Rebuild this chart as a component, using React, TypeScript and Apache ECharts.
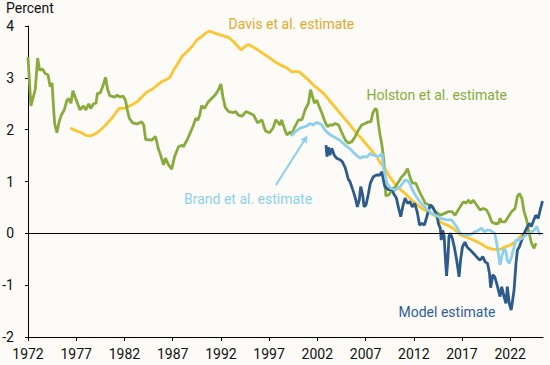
import React, { useEffect, useRef } from 'react';
import * as echarts from 'echarts';

const xTickYears = [1972, 1977, 1982, 1987, 1992, 1997, 2002, 2007, 2012, 2017, 2022];
const yMin = -2;
const yMax = 4;

const holston: [number, number][] = [
  [1972.0,3.40],[1972.3,2.46],[1972.75,2.77],[1973.0,3.38],[1973.2,3.15],[1973.5,3.17],[1973.8,3.08],[1974.07,3.06],[1974.3,2.83],[1974.5,2.90],[1974.6,2.57],[1974.76,2.12],[1975.0,1.94],[1975.2,2.13],[1975.45,2.28],[1975.76,2.38],[1976.04,2.57],[1976.2,2.60],[1976.45,2.51],[1976.66,2.75],[1977.0,2.57],[1977.4,2.38],[1977.76,2.46],[1978.0,2.38],[1978.3,2.50],[1978.5,2.41],[1978.8,2.50],[1979.05,2.51],[1979.2,2.70],[1979.5,2.71],[1979.8,2.86],[1980.04,3.01],[1980.25,2.78],[1980.5,2.65],[1981.05,2.63],[1981.2,2.67],[1981.55,2.63],[1981.85,2.65],[1982.1,2.57],[1982.3,2.38],[1982.5,2.22],[1982.85,2.13],[1983.3,2.11],[1983.8,2.15],[1984.0,2.09],[1984.2,1.81],[1984.85,1.80],[1985.2,1.87],[1985.35,1.77],[1985.5,1.64],[1985.8,1.48],[1986.05,1.32],[1986.25,1.45],[1986.57,1.32],[1986.9,1.24],[1987.2,1.48],[1987.6,1.67],[1987.96,1.70],[1988.1,1.67],[1988.5,1.80],[1988.8,1.93],[1989.1,2.06],[1989.4,2.22],[1989.6,2.18],[1989.8,2.28],[1990.0,2.46],[1990.3,2.41],[1990.7,2.54],[1991.4,2.67],[1991.75,2.77],[1992.0,2.88],[1992.2,2.64],[1992.45,2.43],[1992.8,2.35],[1993.3,2.33],[1993.55,2.35],[1993.8,2.28],[1994.2,2.26],[1994.6,2.35],[1994.97,2.32],[1995.4,2.28],[1995.8,2.13],[1996.25,2.19],[1996.6,1.98],[1997.04,1.94],[1997.4,2.03],[1997.7,2.19],[1998.15,2.09],[1998.3,2.19],[1998.7,1.96],[1998.85,1.90],[1999.2,1.96],[1999.35,1.90],[1999.6,2.03],[2000.05,2.19],[2000.4,2.19],[2000.73,2.38],[2001.08,2.51],[2001.3,2.77],[2001.5,2.64],[2001.7,2.51],[2001.95,2.57],[2002.2,2.44],[2002.47,2.32],[2002.8,2.15],[2003.05,2.06],[2003.3,2.09],[2003.6,2.09],[2003.85,2.12],[2004.2,2.09],[2004.5,1.96],[2004.9,1.80],[2005.2,1.74],[2005.6,1.77],[2005.9,1.86],[2006.25,1.99],[2006.6,2.09],[2006.95,2.12],[2007.3,2.15],[2007.55,2.15],[2007.75,2.32],[2008.0,2.41],[2008.17,2.38],[2008.33,2.12],[2008.5,1.90],[2008.7,1.70],[2008.9,1.40],[2009.1,0.72],[2009.4,0.74],[2009.75,0.84],[2010.1,0.90],[2010.75,1.09],[2011.1,1.16],[2011.35,1.25],[2011.6,1.09],[2011.85,0.97],[2012.2,0.97],[2012.5,0.84],[2012.85,0.71],[2013.2,0.58],[2013.55,0.55],[2013.9,0.51],[2014.25,0.42],[2014.75,0.35],[2015.25,0.39],[2015.6,0.42],[2015.94,0.42],[2016.28,0.35],[2016.8,0.51],[2017.14,0.61],[2017.42,0.58],[2017.66,0.64],[2017.9,0.58],[2018.18,0.64],[2018.5,0.55],[2018.87,0.45],[2019.2,0.48],[2019.56,0.45],[2019.83,0.35],[2020.08,0.22],[2020.4,0.19],[2020.77,0.19],[2020.95,0.29],[2021.1,0.22],[2021.46,0.22],[2021.8,0.32],[2022.16,0.42],[2022.5,0.48],[2022.74,0.71],[2022.95,0.77],[2023.2,0.68],[2023.44,0.42],[2023.7,0.26],[2023.97,0.0],[2024.2,-0.19],[2024.47,-0.29],[2024.67,-0.19]
];

const davis: [number, number][] = [
  [1976.4,2.03],[1977.0,1.98],[1977.45,1.95],[1978.0,1.89],[1978.5,1.88],[1979.0,1.92],[1979.5,1.99],[1980.05,2.09],[1980.56,2.19],[1981.08,2.32],[1981.43,2.41],[1981.95,2.41],[1982.3,2.44],[1982.8,2.48],[1983.33,2.54],[1983.85,2.64],[1984.36,2.73],[1984.9,2.78],[1985.4,2.86],[1985.9,2.93],[1986.4,2.97],[1986.75,3.02],[1987.1,3.15],[1987.45,3.25],[1987.96,3.41],[1988.5,3.51],[1989.0,3.60],[1989.5,3.73],[1990.03,3.80],[1990.55,3.88],[1990.9,3.90],[1991.4,3.86],[1991.9,3.83],[1992.45,3.80],[1992.8,3.78],[1993.3,3.70],[1993.8,3.60],[1994.1,3.54],[1994.6,3.62],[1994.9,3.64],[1995.55,3.57],[1996.07,3.51],[1996.6,3.44],[1997.1,3.38],[1997.6,3.31],[1998.15,3.25],[1998.85,3.19],[1999.3,3.12],[2000.1,3.12],[2000.9,2.99],[2001.6,2.86],[2002.65,2.70],[2003.5,2.51],[2004.35,2.32],[2005.4,2.09],[2006.1,1.92],[2006.44,1.86],[2007.3,1.67],[2008.17,1.48],[2008.5,1.37],[2009.0,1.25],[2009.4,1.12],[2010.24,0.90],[2011.1,0.77],[2011.96,0.61],[2012.83,0.48],[2013.7,0.39],[2014.4,0.32],[2014.73,0.22],[2015.42,0.16],[2016.1,0.10],[2016.8,-0.03],[2017.5,-0.08],[2018.18,-0.13],[2018.87,-0.19],[2019.56,-0.27],[2020.25,-0.31],[2020.95,-0.31],[2021.46,-0.26],[2022.0,-0.23],[2022.7,-0.14],[2023.2,-0.03],[2023.7,0.03],[2024.0,0.06]
];

const brand: [number, number][] = [
  [1999.3,1.88],[1999.6,1.94],[2000.2,2.03],[2000.56,2.05],[2000.9,2.07],[2001.25,2.12],[2001.55,2.09],[2001.95,2.14],[2002.2,2.12],[2002.47,2.09],[2002.8,1.99],[2003.33,1.90],[2003.84,1.85],[2004.36,1.79],[2004.88,1.70],[2005.4,1.63],[2005.74,1.56],[2006.1,1.50],[2006.44,1.45],[2006.78,1.48],[2007.13,1.47],[2007.47,1.54],[2007.75,1.51],[2008.0,1.50],[2008.2,1.48],[2008.5,1.50],[2008.7,1.54],[2008.85,1.29],[2009.2,0.97],[2009.6,0.87],[2010.1,0.84],[2010.6,0.90],[2011.1,1.03],[2011.5,1.00],[2011.85,0.84],[2012.25,0.71],[2012.75,0.58],[2013.3,0.48],[2013.8,0.39],[2014.3,0.35],[2014.8,0.29],[2015.4,0.26],[2015.9,0.26],[2016.2,0.19],[2016.45,0.13],[2016.8,0.0],[2017.14,-0.03],[2017.85,-0.03],[2018.37,0.03],[2018.7,0.06],[2019.05,0.10],[2019.3,0.03],[2019.6,0.06],[2019.9,0.06],[2020.15,0.03],[2020.4,0.0],[2020.6,-0.19],[2020.77,-0.39],[2020.95,-0.61],[2021.12,-0.45],[2021.36,-0.29],[2021.56,-0.35],[2021.7,-0.52],[2021.9,-0.58],[2022.15,-0.45],[2022.4,-0.26],[2022.6,-0.13],[2022.9,-0.13],[2023.2,-0.10],[2023.6,-0.03],[2023.95,0.0],[2024.2,0.03],[2024.5,0.06],[2024.75,0.13],[2025.0,0.0],[2025.2,-0.03]
];

const model: [number, number][] = [
  [2002.9,1.70],[2003.0,1.48],[2003.15,1.66],[2003.3,1.51],[2003.5,1.64],[2003.75,1.51],[2004.0,1.45],[2004.36,1.42],[2004.6,1.38],[2004.88,1.27],[2005.05,1.16],[2005.2,1.05],[2005.4,0.99],[2005.75,0.80],[2006.0,0.64],[2006.15,0.51],[2006.35,0.64],[2006.5,0.90],[2006.7,0.74],[2006.85,0.51],[2007.05,0.55],[2007.3,0.77],[2007.5,0.97],[2007.8,1.09],[2008.2,1.13],[2008.45,1.12],[2008.7,1.19],[2008.85,1.03],[2009.0,0.90],[2009.4,0.84],[2009.75,0.87],[2009.9,0.77],[2010.2,0.68],[2010.4,0.51],[2010.65,0.32],[2010.85,0.51],[2011.1,0.68],[2011.35,0.58],[2011.6,0.61],[2011.85,0.51],[2012.1,0.58],[2012.35,0.42],[2012.6,0.16],[2012.85,0.19],[2013.1,0.16],[2013.35,0.32],[2013.7,0.55],[2013.95,0.51],[2014.2,0.42],[2014.4,0.35],[2014.55,0.19],[2014.75,0.10],[2014.85,-0.13],[2015.0,0.06],[2015.15,-0.06],[2015.25,-0.39],[2015.4,-0.82],[2015.55,-0.45],[2015.65,-0.06],[2015.8,0.0],[2016.0,-0.10],[2016.2,-0.26],[2016.45,-0.52],[2016.7,-0.84],[2016.85,-0.52],[2017.05,-0.26],[2017.3,-0.17],[2017.55,-0.27],[2017.85,-0.32],[2018.2,-0.39],[2018.5,-0.45],[2018.87,-0.52],[2019.15,-0.45],[2019.4,-0.55],[2019.65,-0.58],[2019.85,-0.77],[2019.97,-1.05],[2020.2,-0.80],[2020.4,-0.84],[2020.6,-0.97],[2020.77,-1.09],[2020.95,-1.22],[2021.12,-1.03],[2021.36,-1.22],[2021.56,-1.35],[2021.7,-1.03],[2021.9,-1.35],[2022.1,-1.48],[2022.25,-1.29],[2022.4,-1.09],[2022.6,-0.58],[2022.75,-0.32],[2022.95,-0.26],[2023.2,-0.13],[2023.45,0.0],[2023.7,0.10],[2024.0,0.19],[2024.2,0.13],[2024.45,0.26],[2024.65,0.35],[2024.9,0.29],[2025.15,0.48],[2025.35,0.62]
];

const FONT = 'Roboto, "Noto Sans", sans-serif';
const C_DAVIS = '#FDC52F';
const C_DAVIS_TXT = '#E7A82A';
const C_HOLSTON = '#88AB3C';
const C_BRAND = '#8ED0EC';
const C_MODEL = '#2C5B8C';
const C_MODEL_TXT = '#2F6096';

export default function App() {
  const ref = useRef<HTMLDivElement>(null);
  useEffect(() => {
    const chart = echarts.init(ref.current!, null, { renderer: 'svg' });
    const lineSeries = (name: string, data: [number, number][], color: string, extra: any = {}) => ({
      name,
      type: 'line',
      data,
      symbol: 'none',
      showSymbol: false,
      lineStyle: { color, width: 2.8 },
      itemStyle: { color },
      silent: true,
      ...extra,
    });
    chart.setOption({
      animation: false,
      backgroundColor: '#fcfbf7',
      grid: { left: 28, right: 7, top: 26, bottom: 28, containLabel: false, outerBoundsMode: 'none' },
      xAxis: {
        type: 'value',
        min: 1972,
        max: 2025.4,
        axisLine: { show: true, onZero: false, lineStyle: { color: '#000', width: 1 } },
        axisTick: { show: true, length: 4, customValues: xTickYears, lineStyle: { color: '#000' } },
        axisLabel: { customValues: xTickYears, formatter: (v: number) => String(v), color: '#111', fontSize: 14, fontFamily: FONT, margin: 10 },
        splitLine: { show: false },
      },
      yAxis: {
        type: 'value',
        min: yMin,
        max: yMax,
        interval: 1,
        axisLine: { show: true, onZero: false, lineStyle: { color: '#000', width: 1 } },
        axisTick: { show: true, length: 3, lineStyle: { color: '#000' } },
        axisLabel: { color: '#111', fontSize: 14, fontFamily: FONT, margin: 14 },
        splitLine: { show: false },
      },
      series: [
        lineSeries('Davis', davis, C_DAVIS, {
          markLine: {
            silent: true,
            symbol: ['none', 'none'],
            label: { show: false },
            lineStyle: { color: '#000', width: 1, type: 'solid' },
            data: [{ yAxis: 0 }],
          },
        }),
        lineSeries('Holston', holston, C_HOLSTON),
        lineSeries('Model', model, C_MODEL),
        lineSeries('Brand', brand, C_BRAND),
      ],
      graphic: [
        { type: 'text', x: 6, y: 8, style: { text: 'Percent', fill: '#111', font: `14px ${FONT}`, verticalAlign: 'middle' } },
        { type: 'text', x: 228.5, y: 23.5, style: { text: 'Davis et al. estimate', fill: C_DAVIS_TXT, font: `14px ${FONT}`, verticalAlign: 'middle' } },
        { type: 'text', x: 366.5, y: 95, style: { text: 'Holston et al. estimate', fill: C_HOLSTON, font: `14px ${FONT}`, verticalAlign: 'middle' } },
        { type: 'text', x: 184, y: 199, style: { text: 'Brand et al. estimate', fill: C_BRAND, font: `14px ${FONT}`, verticalAlign: 'middle' } },
        { type: 'text', x: 398.5, y: 311.5, style: { text: 'Model estimate', fill: C_MODEL_TXT, font: `14px ${FONT}`, verticalAlign: 'middle' } },
        { type: 'line', shape: { x1: 276, y1: 185, x2: 303.7, y2: 141.4 }, style: { stroke: C_BRAND, lineWidth: 2 } },
        { type: 'polygon', shape: { points: [[307.5, 135.5], [306.9, 143.5], [300.6, 139.5]] }, style: { fill: C_BRAND } },
      ],
    });
    return () => chart.dispose();
  }, []);
  return <div ref={ref} style={{ position: 'fixed', left: 0, top: 0, width: 550, height: 365 }} />;
}
